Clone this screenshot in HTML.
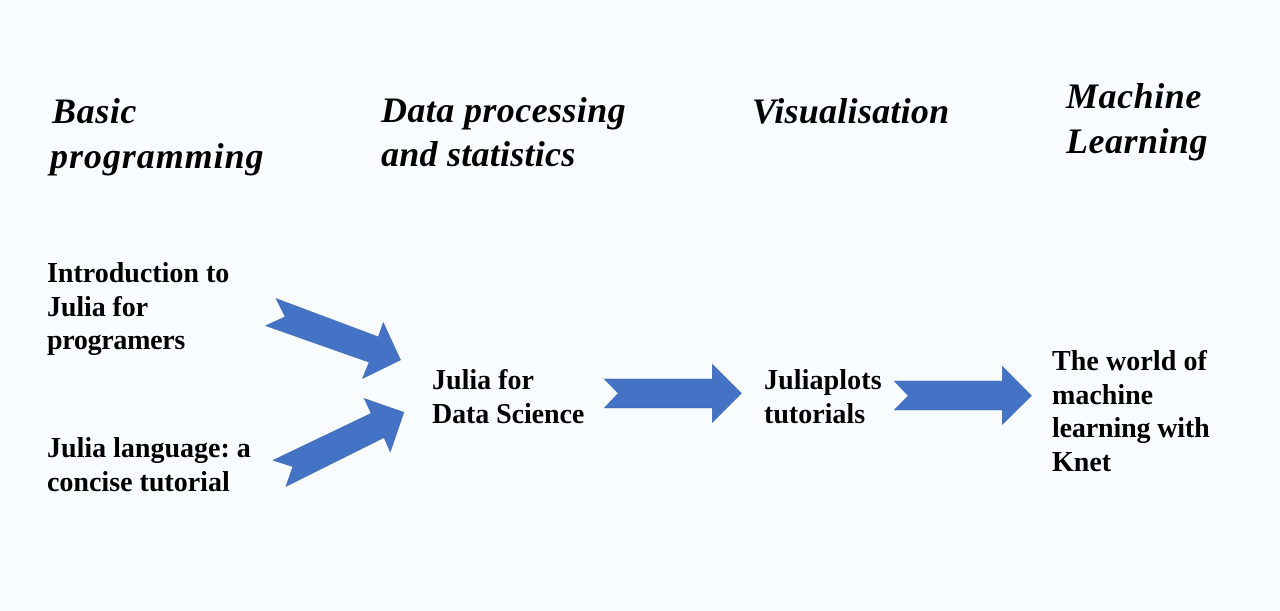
<!DOCTYPE html>
<html>
<head>
<meta charset="utf-8">
<style>
html,body{margin:0;padding:0;background:#f8fcff}
#c{position:relative;width:1280px;height:611px;overflow:hidden;background:#f8fcff}
svg{position:absolute;left:0;top:0}
.t{position:absolute;font-family:"Liberation Serif",serif;font-weight:bold;color:#000;white-space:nowrap;font-size:28px;line-height:33.6px}
.h{position:absolute;font-family:"Liberation Serif",serif;font-weight:bold;font-style:italic;color:#000;white-space:nowrap;font-size:36px;line-height:45px}
</style>
</head>
<body>
<div id="c">
<svg width="1280" height="611" viewBox="0 0 1280 611">
<g fill="#4472c4" stroke="#2f5597" stroke-width="0.5" stroke-opacity="0.7" stroke-linejoin="bevel">
<polygon points="275.7,298.3 378.3,336.7 383.3,322.3 400.7,360 362.3,378.7 369,362.3 265.3,325.7 285,316.7"/>
<polygon points="272.7,460.3 371,413.3 364,398.3 404,412.3 390.3,452.3 384,437.7 285.7,486.7 292.7,466.7"/>
<polygon points="604,379 712.3,379 712.3,364 741.7,393.3 712.3,422.7 712.3,408 604,408 618,393.3"/>
<polygon points="894,381 1002.3,381 1002.3,366 1031.7,395.7 1002.3,424.7 1002.3,410 894,410 908,395.7"/>
</g>
</svg>
<div class="h" style="left:52px;top:89px;letter-spacing:.6px">Basic</div>
<div class="h" style="left:50px;top:134px;letter-spacing:.95px">programming</div>
<div class="h" style="left:381px;top:88px;letter-spacing:.4px">Data processing</div>
<div class="h" style="left:381px;top:132px;letter-spacing:.25px">and statistics</div>
<div class="h" style="left:752px;top:89px;letter-spacing:.25px">Visualisation</div>
<div class="h" style="left:1066px;top:74px;letter-spacing:.55px">Machine</div>
<div class="h" style="left:1066px;top:119px;letter-spacing:.5px">Learning</div>
<div class="t" style="left:47px;top:257px">Introduction to<br><span style="letter-spacing:-.1px">Julia for</span><br><span style="letter-spacing:-.3px">programers</span></div>
<div class="t" style="left:47px;top:432px">Julia language: a<br>concise tutorial</div>
<div class="t" style="left:432px;top:364px">Julia for<br><span style="letter-spacing:-.08px">Data Science</span></div>
<div class="t" style="left:764px;top:364px"><span style="letter-spacing:.1px">Juliaplots</span><br>tutorials</div>
<div class="t" style="left:1052px;top:345px"><span style="letter-spacing:.08px">The world of</span><br>machine<br><span style="letter-spacing:-.15px">learning with</span><br>Knet</div>
</div>
</body>
</html>
